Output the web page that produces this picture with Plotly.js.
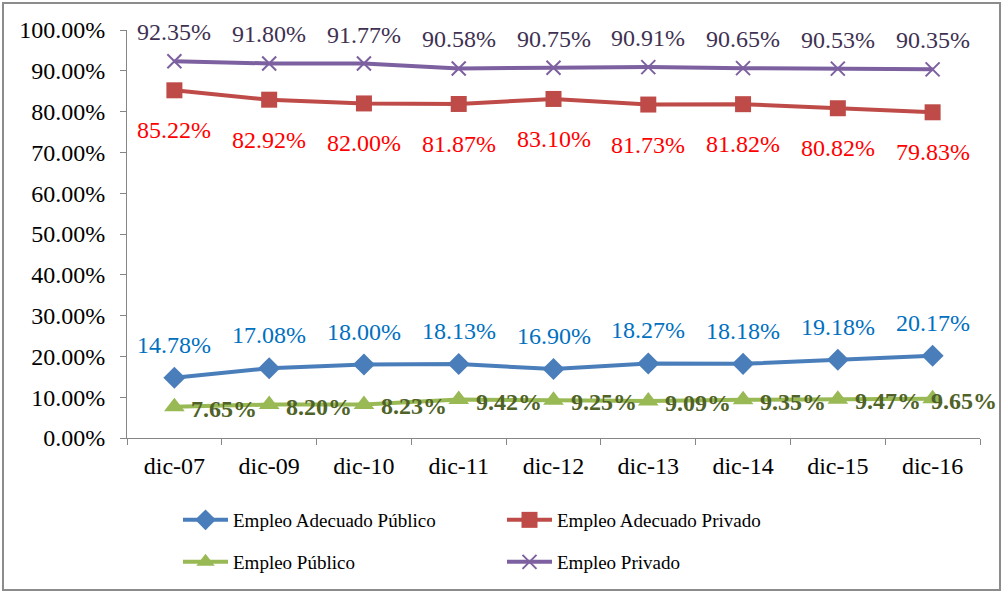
<!DOCTYPE html>
<html>
<head>
<meta charset="utf-8">
<script src="https://cdn.plot.ly/plotly-3.0.1.min.js"></script>
<style>
html,body{margin:0;padding:0;background:#fff;}
#chart{width:1006px;height:595px;}
</style>
</head>
<body>
<div id="chart"></div>
<script>
const categories = ['dic-07','dic-09','dic-10','dic-11','dic-12','dic-13','dic-14','dic-15','dic-16'];
const adecuadoPublico = [14.78,17.08,18.00,18.13,16.90,18.27,18.18,19.18,20.17];
const adecuadoPrivado = [85.22,82.92,82.00,81.87,83.10,81.73,81.82,80.82,79.83];
const empleoPublico = [7.65,8.20,8.23,9.42,9.25,9.09,9.35,9.47,9.65];
const empleoPrivado = [92.35,91.80,91.77,90.58,90.75,90.91,90.65,90.53,90.35];
const yTicks = [0,10,20,30,40,50,60,70,80,90,100];

const FONT = 'Liberation Serif';
const ML = 127, MR = 26, MT = 30, MB = 157, W = 1006, H = 595;
const pw = W - ML - MR, ph = H - MT - MB;

function trace(name, y, color, symbol, size, legend) {
  return {
    type: 'scatter', mode: 'lines+markers', name: name, x: categories, y: y,
    line: {color: color, width: 4},
    marker: {color: color, symbol: symbol, size: size, line: {color: color, width: symbol === 'x-thin' ? 2 : 0}},
    legend: legend, hoverinfo: 'skip'
  };
}

const data = [
  trace('Empleo Adecuado Público', adecuadoPublico, '#4a7ebb', 'diamond', 17, 'legend'),
  trace('Empleo Adecuado Privado', adecuadoPrivado, '#be4b48', 'square', 16, 'legend'),
  trace('Empleo Público', empleoPublico, '#98b954', 'triangle-up', 18, 'legend2'),
  trace('Empleo Privado', empleoPrivado, '#7d60a0', 'x-thin', 14, 'legend2')
];

function labels(values, color, opts) {
  return values.map((v, i) => Object.assign({
    x: categories[i], y: v, xref: 'x', yref: 'y', showarrow: false,
    text: v.toFixed(2) + '%',
    font: {family: FONT, size: 24, color: color}
  }, opts));
}

const greenLabels = labels(empleoPublico, '#4f6228', {xanchor: 'left', yshift: -2});
greenLabels.forEach((a, i) => {
  a.text = '<b>' + a.text + '</b>';
  a.xshift = (i === greenLabels.length - 1) ? -4 : 15;
});

const annotations = [].concat(
  labels(empleoPrivado, '#403152', {yshift: 29}),
  labels(adecuadoPrivado, '#ff0000', {yshift: -40}),
  labels(adecuadoPublico, '#0070c0', {yshift: 33}),
  greenLabels
);

const layout = {
  width: W, height: H,
  margin: {l: ML, r: MR, t: MT, b: MB},
  paper_bgcolor: '#fff', plot_bgcolor: '#fff',
  font: {family: FONT, size: 24, color: '#000'},
  showlegend: true,
  xaxis: {
    type: 'category', showgrid: false, zeroline: false,
    showline: true, linecolor: '#868686', linewidth: 1,
    ticks: 'outside', tickson: 'boundaries', ticklen: 6, tickcolor: '#868686',
    tickfont: {family: FONT, size: 24, color: '#000'}, ticklabelstandoff: 6,
    range: [-0.5, 8.5]
  },
  yaxis: {
    range: [0, 100], tickvals: yTicks, ticktext: yTicks.map(v => v.toFixed(2) + '%'),
    showgrid: false, zeroline: false,
    showline: true, linecolor: '#868686', linewidth: 1,
    ticks: 'outside', ticklen: 6, tickcolor: '#868686',
    tickfont: {family: FONT, size: 24, color: '#000'}, ticklabelstandoff: 10
  },
  legend: {
    orientation: 'h', x: (178 - ML) / pw, xanchor: 'left', y: -(520 - (MT + ph)) / ph, yanchor: 'middle',
    font: {family: FONT, size: 19, color: '#000'}, entrywidth: 264, itemwidth: 45, bgcolor: 'rgba(0,0,0,0)'
  },
  legend2: {
    orientation: 'h', x: (178 - ML) / pw, xanchor: 'left', y: -(562 - (MT + ph)) / ph, yanchor: 'middle',
    font: {family: FONT, size: 19, color: '#000'}, entrywidth: 264, itemwidth: 45, bgcolor: 'rgba(0,0,0,0)'
  },
  annotations: annotations,
  shapes: [{
    type: 'rect', xref: 'paper', yref: 'paper', layer: 'above',
    x0: (3 - ML) / pw, x1: (1000 - ML) / pw,
    y0: (MT + ph - 590) / ph, y1: (MT + ph - 3) / ph,
    line: {color: '#8c8c8c', width: 2}
  }]
};

Plotly.newPlot('chart', data, layout, {displayModeBar: false, staticPlot: true});
</script>
</body>
</html>
